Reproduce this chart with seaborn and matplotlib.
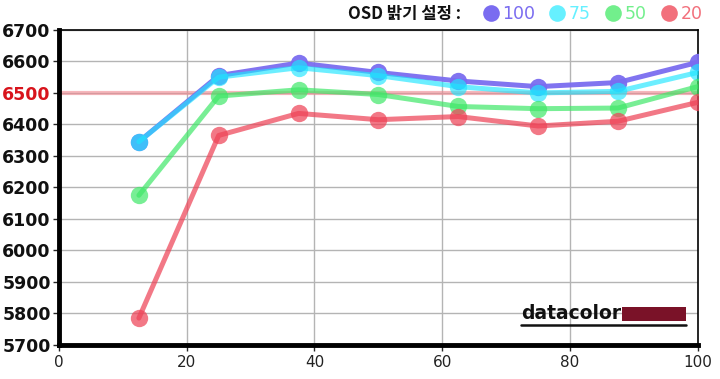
import matplotlib

matplotlib.use("Agg")
import matplotlib.pyplot as plt
import pandas as pd
import seaborn as sns
from matplotlib.lines import Line2D
from matplotlib.patches import Rectangle

# measurement points (x axis) and colour temperature readings per OSD brightness
x_points = [12.5, 25, 37.5, 50, 62.5, 75, 87.5, 100]
osd_100 = [6345, 6555, 6595, 6565, 6538, 6520, 6533, 6597]
osd_75 = [6345, 6550, 6580, 6555, 6520, 6500, 6505, 6565]
osd_50 = [6175, 6490, 6510, 6495, 6457, 6450, 6452, 6520]
osd_20 = [5785, 6365, 6435, 6415, 6425, 6395, 6410, 6470]

series_names = ["100", "75", "50", "20"]
colors = {
    "100": "#7a6cf0",  # purple
    "75": "#1ee6ff",  # cyan
    "50": "#3fe868",  # green
    "20": "#ee4458",  # red
}
alphas = {"100": 0.95, "75": 0.65, "50": 0.7, "20": 0.72}
legend_colors = {"100": "#7a6cf0", "75": "#66f0ff", "50": "#72ef8c", "20": "#f2707c"}
y_ticks = list(range(5700, 6701, 100))
x_ticks = [0, 20, 40, 60, 80, 100]
target = 6500

records = []
for name, vals in zip(series_names, [osd_100, osd_75, osd_50, osd_20]):
    for x, v in zip(x_points, vals):
        records.append({"x": x, "K": v, "OSD": name})
df = pd.DataFrame(records)

sns.set_theme(style="white")
fig = plt.figure(figsize=(7.2, 3.79), dpi=100)
ax = fig.add_axes([0.082, 0.09, 0.887, 0.831])

# grid
for yt in y_ticks:
    ax.axhline(yt, color="#b4b4b4", linewidth=1, zorder=0)
for xt in x_ticks[1:-1]:
    ax.axvline(xt, color="#b4b4b4", linewidth=1, zorder=0)
ax.axhline(target, color="#f08890", linewidth=3, alpha=0.6, zorder=1)

for name in series_names:
    sns.lineplot(
        data=df[df["OSD"] == name],
        x="x",
        y="K",
        color=colors[name],
        marker="o",
        markersize=12.5,
        markeredgewidth=0,
        linewidth=3.6,
        alpha=alphas[name],
        legend=False,
        ax=ax,
        zorder=3,
    )

ax.set_xlim(0, 100)
ax.set_ylim(5700, 6700)
ax.set_xticks(x_ticks)
ax.set_yticks(y_ticks)
ax.set_xlabel("")
ax.set_ylabel("")
ax.tick_params(axis="y", labelsize=12.5, length=4, width=1, left=True, pad=2)
ax.tick_params(axis="x", labelsize=11, length=4, width=1, bottom=True, pad=3)
for lbl in ax.get_yticklabels():
    lbl.set_fontweight("bold")
    lbl.set_color("#111111")
    if lbl.get_text() == str(target):
        lbl.set_color("#d8141c")
for lbl in ax.get_xticklabels():
    lbl.set_color("#222222")

for side in ["left", "bottom"]:
    ax.spines[side].set_linewidth(3.5)
    ax.spines[side].set_color("black")
for side in ["top", "right"]:
    ax.spines[side].set_linewidth(1.2)
    ax.spines[side].set_color("black")

# datacolor logo
ax.text(0.723, 0.068, "datacolor", transform=ax.transAxes, fontsize=13.5,
        fontweight="heavy", color="#111111", ha="left", va="bottom", zorder=5)
ax.add_patch(Rectangle((0.882, 0.075), 0.1, 0.045, transform=ax.transAxes,
                       facecolor="#7a1228", edgecolor="none", zorder=5))
ax.plot([0.723, 0.982], [0.062, 0.062], transform=ax.transAxes,
        color="#111111", linewidth=1.8, zorder=5)

# legend at top
fig.text(0.64, 0.962, "OSD 밝기 설정 :", fontsize=12, fontweight="bold",
         family=["Noto Sans CJK KR", "DejaVu Sans"], color="#111111",
         ha="right", va="center")
handles = [
    Line2D([], [], linestyle="none", marker="o", markersize=12,
           markerfacecolor=legend_colors[n], markeredgewidth=0)
    for n in series_names
]
leg = fig.legend(handles, series_names, loc="center left",
                 bbox_to_anchor=(0.668, 0.962), ncol=4, frameon=False,
                 fontsize=12.5, handletextpad=0.1, columnspacing=0.75,
                 handlelength=1.1, borderaxespad=0, borderpad=0)
for txt, n in zip(leg.get_texts(), series_names):
    txt.set_color(legend_colors[n])

fig.savefig("out.png", dpi=100)
